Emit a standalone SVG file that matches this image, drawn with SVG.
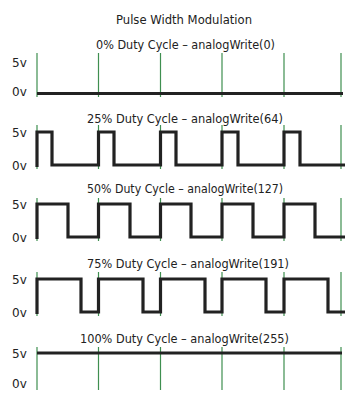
<svg xmlns="http://www.w3.org/2000/svg" width="362" height="402" viewBox="0 0 362 402">
<style>
text{font-family:"DejaVu Sans","Lucida Grande",Verdana,sans-serif;font-size:12px;fill:#222}
.t{text-anchor:middle}
.g{stroke:#3f8f50;stroke-width:1.2;fill:none}
.w{stroke:#222;stroke-width:3.2;fill:none;stroke-linejoin:miter;stroke-linecap:butt}
</style>
<rect width="362" height="402" fill="#fff"/>
<text class="t" x="184" y="24" textLength="136" lengthAdjust="spacingAndGlyphs">Pulse Width Modulation</text>

<g id="panel0">
<text class="t" x="185.5" y="49" textLength="179" lengthAdjust="spacingAndGlyphs">0% Duty Cycle – analogWrite(0)</text>
<text x="12" y="67">5v</text>
<text x="12" y="96">0v</text>
<path class="g" d="M37,53V97M98.5,53V97M160.5,53V97M222,53V97M284,53V97M341,53V97"/>
<path class="w" d="M37,93.5H343"/>
</g>

<g id="panel25">
<text class="t" x="185" y="123" textLength="196" lengthAdjust="spacingAndGlyphs">25% Duty Cycle – analogWrite(64)</text>
<text x="12" y="137">5v</text>
<text x="12" y="170">0v</text>
<path class="g" d="M37,125V169M98.5,125V169M160.5,125V169M222,125V169M284,125V169M341,125V169"/>
<path class="w" d="M37,167V132H52V165H98.5V132H114V165H160.5V132H176V165H222V132H238V165H284V132H300V165H345"/>
</g>

<g id="panel50">
<text class="t" x="185" y="193" textLength="196" lengthAdjust="spacingAndGlyphs">50% Duty Cycle – analogWrite(127)</text>
<text x="12" y="209">5v</text>
<text x="12" y="242">0v</text>
<path class="g" d="M37,198V241M98.5,198V241M160.5,198V241M222,198V241M284,198V241M341,198V241"/>
<path class="w" d="M37,239V204H68V237H98.5V204H130V237H160.5V204H191V237H222V204H253V237H284V204H315V237H345"/>
</g>

<g id="panel75">
<text class="t" x="188" y="268" textLength="202" lengthAdjust="spacingAndGlyphs">75% Duty Cycle – analogWrite(191)</text>
<text x="12" y="284">5v</text>
<text x="12" y="317">0v</text>
<path class="g" d="M37,272V316M98.5,272V316M160.5,272V316M222,272V316M284,272V316M341,272V316"/>
<path class="w" d="M37,314V279H81V312H98.5V279H143V312H160.5V279H205V312H222V279H266V312H284V279H328V312H345"/>
</g>

<g id="panel100">
<text class="t" x="184.5" y="343" textLength="209" lengthAdjust="spacingAndGlyphs">100% Duty Cycle – analogWrite(255)</text>
<text x="12" y="358">5v</text>
<text x="12" y="388">0v</text>
<path class="g" d="M37,347V390M98.5,347V390M160.5,347V390M222,347V390M284,347V390M341,347V390"/>
<path class="w" d="M37,353H342"/>
</g>
</svg>
